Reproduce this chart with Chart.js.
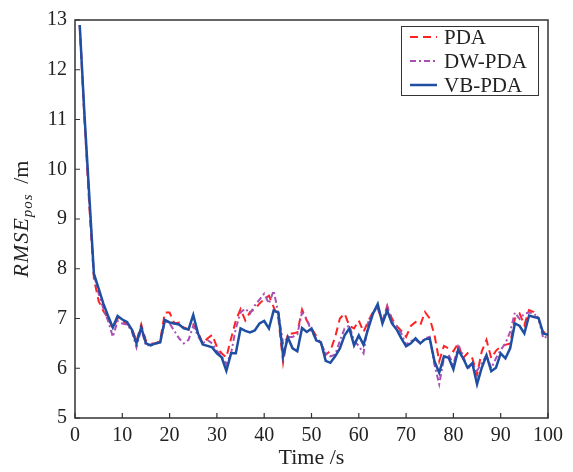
<!DOCTYPE html>
<html>
<head>
<meta charset="utf-8">
<script src="https://cdn.jsdelivr.net/npm/chart.js@4/dist/chart.umd.min.js"></script>
<style>
html,body{margin:0;padding:0;background:#fff;}
#wrap{width:573px;height:472px;position:relative;}
</style>
</head>
<body>
<div id="wrap"><canvas id="c" width="573" height="472"></canvas></div>
<script>
const times = [];
for (let i = 1; i <= 100; i++) times.push(i);

const seriesNames = ['PDA', 'DW-PDA', 'VB-PDA'];

const pda = [12.9,11.0,9.3,7.8,7.35,7.15,7.0,6.8,7.0,6.95,
 6.9,6.8,6.55,6.88,6.55,6.5,6.5,6.55,7.12,7.12,
 6.9,6.92,6.82,6.78,6.88,6.72,6.5,6.6,6.67,6.43,
 6.3,6.22,6.6,6.96,7.19,6.96,7.13,7.19,7.3,7.39,
 7.46,7.23,7.0,6.12,6.7,6.7,6.72,7.18,6.96,6.8,
 6.65,6.5,6.27,6.35,6.63,7.0,7.1,6.85,6.8,6.96,
 6.73,6.95,7.13,7.2,6.95,7.25,7.0,6.85,6.75,6.63,
 6.85,6.93,6.87,7.13,7.0,6.67,6.14,6.45,6.4,6.34,
 6.5,6.2,6.3,6.2,5.87,6.34,6.57,6.2,6.35,6.44,
 6.47,6.5,7.0,7.1,6.87,7.17,7.13,7.0,6.7,6.8];

const dwpda = [12.9,11.05,9.4,7.9,7.5,7.2,6.95,6.63,6.95,6.9,
 6.88,6.75,6.42,6.8,6.45,6.48,6.5,6.5,6.95,6.9,
 6.75,6.6,6.5,6.57,6.85,6.65,6.5,6.57,6.5,6.35,
 6.25,6.08,6.3,6.8,7.12,7.2,7.1,7.26,7.38,7.5,
 7.3,7.56,7.1,6.5,6.63,6.63,6.68,7.12,6.99,6.73,
 6.6,6.5,6.3,6.24,6.27,6.55,6.8,6.86,6.55,6.45,
 6.3,6.93,7.1,7.25,6.93,7.25,6.93,6.85,6.7,6.47,
 6.55,6.57,6.5,6.6,6.63,6.07,5.68,6.2,6.27,6.07,
 6.44,6.27,5.98,6.1,5.95,6.1,6.27,6.0,6.2,6.37,
 6.5,6.73,7.12,6.99,7.1,7.12,7.1,7.0,6.6,6.65];

const vbpda = [12.9,11.1,9.5,7.9,7.6,7.3,7.05,6.82,7.05,6.98,
 6.93,6.78,6.5,6.82,6.5,6.46,6.5,6.52,6.97,6.92,
 6.9,6.88,6.8,6.78,7.07,6.7,6.48,6.45,6.42,6.3,
 6.22,5.95,6.3,6.3,6.8,6.75,6.72,6.76,6.9,6.95,
 6.8,7.16,7.12,6.24,6.62,6.4,6.34,6.81,6.73,6.8,
 6.56,6.52,6.15,6.11,6.24,6.4,6.66,6.8,6.46,6.66,
 6.47,6.8,7.1,7.29,6.9,7.16,6.9,6.78,6.6,6.44,
 6.5,6.6,6.5,6.58,6.6,6.14,5.91,6.24,6.21,5.98,
 6.37,6.21,6.01,6.1,5.68,6.01,6.26,5.94,6.01,6.3,
 6.2,6.4,6.9,6.85,6.7,7.06,7.03,7.01,6.7,6.67];

const xTicks = [0,10,20,30,40,50,60,70,80,90,100];
const yTicks = [5,6,7,8,9,10,11,12,13];

const SERIF = '"Liberation Serif", "DejaVu Serif", serif';

function pts(vals){ return vals.map((v,i)=>({x:times[i], y:v})); }

const frameAndLegend = {
  id: 'frameAndLegend',
  afterDraw(chart) {
    const ctx = chart.ctx;
    const a = chart.chartArea;
    const xs = chart.scales.x, ys = chart.scales.y;
    ctx.save();
    // frame
    ctx.strokeStyle = '#333';
    ctx.lineWidth = 1.5;
    ctx.strokeRect(a.left, a.top, a.right - a.left, a.bottom - a.top);
    // inward ticks
    ctx.lineWidth = 1.2;
    ctx.beginPath();
    xTicks.forEach(t => {
      const px = xs.getPixelForValue(t);
      ctx.moveTo(px, a.bottom); ctx.lineTo(px, a.bottom - 5);
    });
    yTicks.forEach(t => {
      const py = ys.getPixelForValue(t);
      ctx.moveTo(a.left, py); ctx.lineTo(a.left + 5, py);
    });
    ctx.stroke();

    // y axis title: RMSE_pos /m
    ctx.fillStyle = '#222';
    ctx.translate(22, (a.top + a.bottom) / 2);
    ctx.rotate(-Math.PI / 2);
    ctx.textBaseline = 'middle';
    const f1 = 'italic 22px ' + SERIF, f2 = 'italic 15px ' + SERIF, f3 = '22px ' + SERIF;
    ctx.letterSpacing = '1px';
    ctx.font = f1; const w1 = ctx.measureText('RMSE').width;
    ctx.font = f2; const w2 = ctx.measureText('pos').width;
    ctx.letterSpacing = '0px';
    ctx.font = f3; const w3 = ctx.measureText(' /m').width + 4;
    let x0 = -(w1 + w2 + w3) / 2;
    ctx.textAlign = 'left';
    ctx.letterSpacing = '1px';
    ctx.font = f1; ctx.fillText('RMSE', x0, 0);
    ctx.font = f2; ctx.fillText('pos', x0 + w1, 6);
    ctx.letterSpacing = '0px';
    ctx.font = f3; ctx.fillText(' /m', x0 + w1 + w2 + 4, 0);
    ctx.setTransform(1,0,0,1,0,0);

    // legend
    const lx = a.right - 147, ly = a.top + 6, lw = 137, lh = 69;
    ctx.fillStyle = '#fff';
    ctx.fillRect(lx, ly, lw, lh);
    ctx.strokeStyle = '#333';
    ctx.lineWidth = 1;
    ctx.strokeRect(lx + 0.5, ly + 0.5, lw, lh);
    ctx.font = '21px ' + SERIF;
    ctx.textAlign = 'left';
    ctx.textBaseline = 'middle';
    chart.data.datasets.forEach((ds, i) => {
      const yy = ly + 11 + i * 24;
      ctx.strokeStyle = ds.borderColor;
      ctx.lineWidth = ds.borderWidth;
      ctx.setLineDash(ds.borderDash || []);
      ctx.beginPath();
      ctx.moveTo(lx + 9, yy); ctx.lineTo(lx + 36, yy);
      ctx.stroke();
      ctx.setLineDash([]);
      ctx.fillStyle = '#222';
      ctx.fillText(ds.label, lx + 43, yy + 1);
    });
    ctx.restore();
  }
};

new Chart(document.getElementById('c'), {
  type: 'line',
  data: {
    datasets: [
      { label: seriesNames[0], data: pts(pda), borderColor: '#ff2222', borderWidth: 2, borderDash: [8,5], pointRadius: 0, fill: false, tension: 0, order: 3 },
      { label: seriesNames[1], data: pts(dwpda), borderColor: '#a94fb5', borderWidth: 2, borderDash: [6,3,2,3], pointRadius: 0, fill: false, tension: 0, order: 2 },
      { label: seriesNames[2], data: pts(vbpda), borderColor: '#1f4fa3', borderWidth: 2.5, pointRadius: 0, fill: false, tension: 0, order: 1 }
    ]
  },
  options: {
    responsive: false,
    animation: false,
    maintainAspectRatio: false,
    layout: { padding: { left: 0, right: 25, top: 12, bottom: 0 } },
    plugins: { legend: { display: false }, tooltip: { enabled: false } },
    scales: {
      x: {
        type: 'linear', min: 0, max: 100,
        afterBuildTicks: s => { s.ticks = xTicks.map(v => ({value: v})); },
        afterFit: s => { s.height = 54; },
        grid: { display: false, drawTicks: false },
        border: { display: false },
        ticks: { padding: 6, color: '#222', maxRotation: 0, font: { family: SERIF, size: 20 } },
        title: { display: true, text: 'Time /s', color: '#222', font: { family: SERIF, size: 22 }, padding: { top: 0, bottom: 1 } }
      },
      y: {
        type: 'linear', min: 5, max: 13,
        afterBuildTicks: s => { s.ticks = yTicks.map(v => ({value: v})); },
        afterFit: s => { s.width = 75; },
        grid: { display: false, drawTicks: false },
        border: { display: false },
        ticks: { padding: 8, color: '#222', font: { family: SERIF, size: 20 } }
      }
    }
  },
  plugins: [frameAndLegend]
});
</script>
</body>
</html>
